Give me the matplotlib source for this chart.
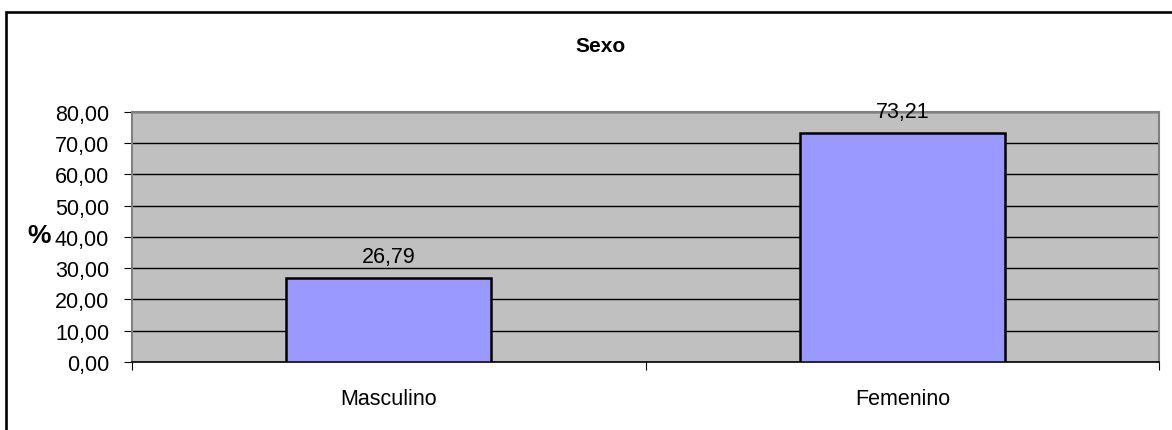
import matplotlib.pyplot as plt
from matplotlib.lines import Line2D
from matplotlib.ticker import FuncFormatter

categories = ['Masculino', 'Femenino']
values = [26.79, 73.21]
yticks = [0, 10, 20, 30, 40, 50, 60, 70, 80]

plt.rcParams['font.family'] = ['Liberation Sans', 'DejaVu Sans']

fig = plt.figure(figsize=(11.72, 4.31), dpi=100)
ax = fig.add_axes([0.1126, 0.158, 0.8764, 0.58])

ax.set_facecolor('#c0c0c0')
x = range(len(categories))
ax.bar(x, values, width=0.4, color='#9999ff', edgecolor='black', linewidth=1.8, zorder=3)
for xi, v in zip(x, values):
    ax.text(xi, v + 7, f'{v:.2f}'.replace('.', ','), ha='center', va='center', fontsize=15.5)

ax.set_xlim(-0.5, len(categories) - 0.5)
ax.set_ylim(0, 80)
ax.set_yticks(yticks)
ax.yaxis.set_major_formatter(FuncFormatter(lambda v, p: f'{v:.2f}'.replace('.', ',')))
ax.grid(axis='y', color='black', linewidth=1, zorder=1)
ax.set_axisbelow(True)

ax.set_xticks([-0.5, 0.5, 1.5], minor=False)
ax.set_xticklabels(['', '', ''])
ax.set_xticks(list(x), minor=True)
ax.set_xticklabels(categories, minor=True, fontsize=15.5)
ax.tick_params(axis='x', which='minor', length=0, pad=19)
ax.tick_params(axis='x', which='major', length=6, color='black')
ax.tick_params(axis='y', length=6, labelsize=15.5, pad=10.5)

for s in ['top', 'right']:
    ax.spines[s].set_color('#808080')
    ax.spines[s].set_linewidth(1.5)
ax.spines['left'].set_color('#808080')
ax.spines['left'].set_linewidth(1.5)
ax.spines['bottom'].set_color('black')
ax.spines['bottom'].set_linewidth(1.2)

ax.set_ylabel('%', rotation=0, fontsize=19, fontweight='bold', va='center', ha='center')
ax.yaxis.set_label_coords(-0.0905, 0.508)

fig.text(0.5125, 0.893, 'Sexo', ha='center', va='center', fontsize=15, fontweight='bold')

# chart frame: only the left and top edges are inside the picture
fig.lines.append(Line2D([0.0052, 0.0052, 1.0], [0.0, 0.9687, 0.9687], transform=fig.transFigure,
                        color='black', linewidth=1.9, solid_joinstyle='miter'))

fig.savefig('out.png', dpi=100)
